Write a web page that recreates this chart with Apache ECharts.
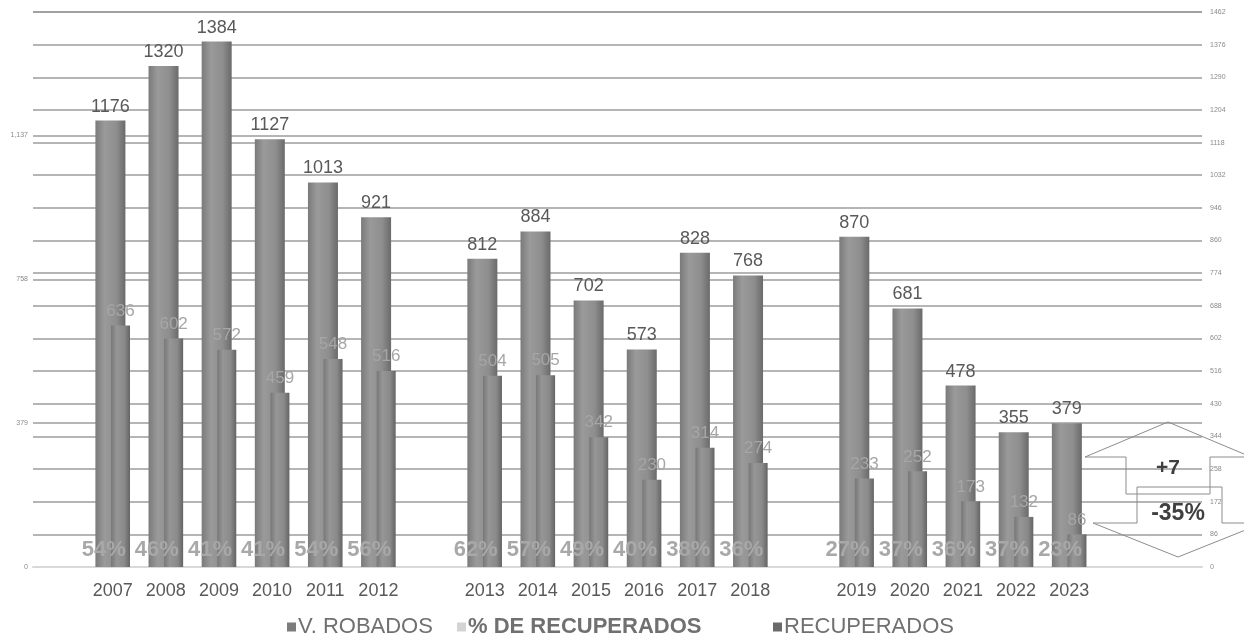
<!DOCTYPE html>
<html><head><meta charset="utf-8">
<script src="https://cdn.jsdelivr.net/npm/echarts@6/dist/echarts.min.js"></script>
<style>html,body{margin:0;padding:0;background:#fff}#c{width:1244px;height:640px}</style>
</head><body><div id="c"></div>
<script>
var categories = ['', '2007','2008','2009','2010','2011','2012','', '2013','2014','2015','2016','2017','2018','', '2019','2020','2021','2022','2023','',''];
var robados = [null, 1176,1320,1384,1127,1013,921, null, 812,884,702,573,828,768, null, 870,681,478,355,379, null,null];
var recuperados = [null, 636,602,572,459,548,516, null, 504,505,342,230,314,274, null, 233,252,173,132,86, null,null];
var pctRecuperados = [null, 54,46,41,41,54,56, null, 62,57,49,40,38,36, null, 27,37,36,37,23, null,null];
var seriesNames = ['V. ROBADOS', '% DE RECUPERADOS', 'RECUPERADOS'];
var leftTicks = {min:0, max:1462, interval:379};
var rightTicks = {min:0, max:1462, interval:86};
var deltaAbs = '+7';
var deltaPct = '-35%';

var FONT = 'Liberation Sans, Arial, sans-serif';
var chart = echarts.init(document.getElementById('c'));
function grad(a,b,c,d){return new echarts.graphic.LinearGradient(0,0,1,0,[{offset:0,color:a},{offset:0.3,color:b},{offset:0.7,color:c},{offset:1,color:d}]);}
function legendAt(left, name, iconColor, bold){
  return {top:611, left:left, itemWidth:9, itemHeight:9, itemGap:0, icon:'rect',
    textStyle:{fontFamily:FONT,fontSize:22,color:'#707070',fontWeight:bold?'bold':'normal',padding:[0,0,0,-3]},
    data:[{name:name, itemStyle:{color:iconColor}}]};
}
chart.setOption({
  animation:false,
  textStyle:{fontFamily:FONT},
  grid:{left:33,right:42,top:12,bottom:73},
  legend:[
    legendAt(282, seriesNames[0], '#7c7c7c', false),
    legendAt(452, seriesNames[1], '#d4d4d4', true),
    legendAt(768, seriesNames[2], '#6a6a6a', false)
  ],
  xAxis:[
    {type:'category', data:categories, axisTick:{show:false},
     axisLine:{lineStyle:{color:'#d9d9d9',width:2}},
     axisLabel:{fontFamily:FONT,fontSize:18,color:'#595959',margin:15}},
    {type:'category', data:categories, show:false}
  ],
  yAxis:[
    {type:'value', position:'left', min:leftTicks.min, max:leftTicks.max, interval:leftTicks.interval,
     axisLine:{show:false}, axisTick:{show:false},
     axisLabel:{fontSize:7,color:'#8a8a8a',margin:5,showMaxLabel:false},
     splitLine:{lineStyle:{color:'#9c9c9c',width:1.5}}},
    {type:'value', position:'right', min:rightTicks.min, max:rightTicks.max, interval:rightTicks.interval,
     axisLine:{show:false}, axisTick:{show:false},
     axisLabel:{fontSize:7,color:'#8a8a8a',margin:8,formatter:function(v){return String(v);}},
     splitLine:{lineStyle:{color:'#9c9c9c',width:1.5}}},
    {type:'value', show:false, min:0, max:200000}
  ],
  series:[
    {name:seriesNames[0], type:'bar', xAxisIndex:0, yAxisIndex:1, data:robados, barWidth:30, barGap:'-48%',
     itemStyle:{color:grad('#7a7a7a','#9a9a9a','#8e8e8e','#6a6a6a')},
     label:{show:true, position:'top', distance:5, fontFamily:FONT, fontSize:18, color:'#595959'}, z:2},
    {name:seriesNames[2], type:'bar', xAxisIndex:0, yAxisIndex:1, data:recuperados, barWidth:19, barGap:'-48%',
     itemStyle:{color:grad('#777777','#969696','#8a8a8a','#646464')},
     label:{show:true, position:'top', distance:6, fontFamily:FONT, fontSize:17, color:'#a6a6a6'}, z:3},
    {name:seriesNames[1], type:'bar', xAxisIndex:1, yAxisIndex:2, data:pctRecuperados, barWidth:20,
     itemStyle:{color:'rgba(0,0,0,0)'},
     label:{show:true, position:'top', distance:6, offset:[-9,0], formatter:'{c}%', fontFamily:FONT, fontSize:22, fontWeight:'bold', color:'#a8a8a8'}, z:4}
  ],
  graphic:[
    {type:'polygon', shape:{points:[[1085,457],[1168,422],[1251,457],[1210,457],[1210,494],[1126,494],[1126,457]]},
     style:{fill:'rgba(0,0,0,0)',stroke:'#8c8c8c',lineWidth:1}, z:10},
    {type:'polygon', shape:{points:[[1137,487],[1222,487],[1222,523],[1263,523],[1178,557],[1093,523],[1137,523]]},
     style:{fill:'rgba(0,0,0,0)',stroke:'#8c8c8c',lineWidth:1}, z:10},
    {type:'text', x:1168, y:468, style:{text:deltaAbs, fontFamily:FONT, fontSize:21, fontWeight:'bold', fill:'#404040', align:'center', verticalAlign:'middle'}, z:11},
    {type:'text', x:1178, y:514, style:{text:deltaPct, fontFamily:FONT, fontSize:23, fontWeight:'bold', fill:'#404040', align:'center', verticalAlign:'middle'}, z:11}
  ]
});
</script></body></html>
